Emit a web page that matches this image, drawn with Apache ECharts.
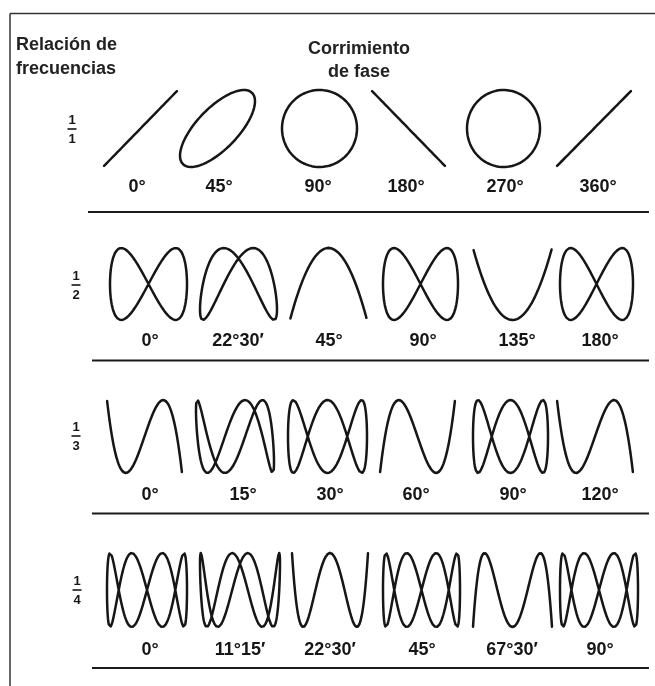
<!DOCTYPE html>
<html>
<head>
<meta charset="utf-8">
<script src="https://cdn.jsdelivr.net/npm/echarts@6/dist/echarts.min.js"></script>
<style>html,body{margin:0;padding:0;background:#fff;}#c{width:655px;height:686px;}</style>
</head>
<body>
<div id="c"></div>
<script>
// ---- data ----
const ratioTop = ['1', '1', '1', '1'];
const ratioBottom = ['1', '2', '3', '4'];
const freqMultiplier = [1, 2, 3, 4];
const phaseDeg = [
  [0, 45, 90, 180, 270, 360],
  [0, 22.5, 45, 90, 135, 180],
  [0, 15, 30, 60, 90, 120],
  [0, 11.25, 22.5, 45, 67.5, 90]
];
const phaseLabels = [
  ['0°', '45°', '90°', '180°', '270°', '360°'],
  ['0°', '22°30′', '45°', '90°', '135°', '180°'],
  ['0°', '15°', '30°', '60°', '90°', '120°'],
  ['0°', '11°15′', '22°30′', '45°', '67°30′', '90°']
];
const titleLeft = ['Relación de', 'frecuencias'];
const titleCenter = ['Corrimiento', 'de fase'];

// ---- layout ----
const rowTop = [90, 248, 400, 553];
const rowH = [77, 72, 73, 74];
const cellLeft = [
  [103, 180, 282, 371, 467, 556],
  [110, 200, 290, 383, 473, 560],
  [107, 196, 288, 380, 473, 557],
  [107, 200, 292, 383, 473, 560]
];
const cellW = [
  [75, 75, 75, 75, 73, 76],
  [77, 77, 77, 75, 79, 73],
  [75, 78, 79, 75, 75, 76],
  [80, 80, 76, 77, 79, 78]
];
const labelX = [
  [137, 219, 318, 406, 505, 598],
  [150, 238, 329, 423, 517, 600],
  [150, 243, 330, 416, 513, 600],
  [150, 240, 330, 422, 512, 600]
];
const labelY = [187.5, 341, 495, 650];
const sepY = [212, 360.5, 513.5, 668];
const sepX1 = [88, 92, 92, 92];
const fracX = [72, 76, 76, 77];
const fracY = [129, 285, 436, 590];

// Lissajous trace for given frequency multiplier and phase
function curve(n, deg) {
  const ph = deg * Math.PI / 180;
  const pts = [];
  const N = 720;
  for (let i = 0; i <= N; i++) {
    const s = 2 * Math.PI * i / N;
    pts.push([Math.sin(s), Math.sin(n * s + n * ph)]);
  }
  return pts;
}

const grids = [], xAxes = [], yAxes = [], series = [];
const graphics = [];
const ink = '#161616';
const fam = '"Liberation Sans", Arial, sans-serif';
let k = 0;
for (let r = 0; r < 4; r++) {
  for (let c = 0; c < 6; c++) {
    grids.push({ left: cellLeft[r][c], top: rowTop[r], width: cellW[r][c], height: rowH[r] });
    xAxes.push({ gridIndex: k, type: 'value', min: -1, max: 1, show: false });
    yAxes.push({ gridIndex: k, type: 'value', min: -1, max: 1, show: false });
    series.push({
      type: 'line', xAxisIndex: k, yAxisIndex: k, showSymbol: false, clip: false,
      silent: true, animation: false,
      lineStyle: { color: ink, width: 2.5, join: 'round', cap: 'round' },
      data: curve(freqMultiplier[r], phaseDeg[r][c])
    });
    graphics.push({
      type: 'text', x: labelX[r][c], y: labelY[r],
      style: { text: phaseLabels[r][c], fill: ink, font: 'bold 18px ' + fam, align: 'center', verticalAlign: 'middle' }
    });
    k++;
  }
  graphics.push({
    type: 'line', shape: { x1: sepX1[r], y1: sepY[r], x2: 649, y2: sepY[r] },
    style: { stroke: '#1a1a1a', lineWidth: 2 }
  });
  graphics.push({
    type: 'text', x: fracX[r], y: fracY[r] - 8.5,
    style: { text: ratioTop[r], fill: ink, font: 'bold 13px ' + fam, align: 'center', verticalAlign: 'middle' }
  });
  graphics.push({
    type: 'line', shape: { x1: fracX[r] - 4.5, y1: fracY[r], x2: fracX[r] + 4.5, y2: fracY[r] },
    style: { stroke: ink, lineWidth: 1.6 }
  });
  graphics.push({
    type: 'text', x: fracX[r], y: fracY[r] + 10.5,
    style: { text: ratioBottom[r], fill: ink, font: 'bold 13px ' + fam, align: 'center', verticalAlign: 'middle' }
  });
}
// frame
graphics.push({ type: 'line', shape: { x1: 10, y1: 13.5, x2: 655, y2: 13.5 }, style: { stroke: '#333', lineWidth: 1.5 } });
graphics.push({ type: 'line', shape: { x1: 10, y1: 13.5, x2: 10, y2: 686 }, style: { stroke: '#333', lineWidth: 1.5 } });
// headers
const hFont = 'bold 18px ' + fam;
graphics.push({ type: 'text', x: 16, y: 45.5, style: { text: titleLeft[0], fill: '#222', font: hFont, align: 'left', verticalAlign: 'middle' } });
graphics.push({ type: 'text', x: 16, y: 69, style: { text: titleLeft[1], fill: '#222', font: hFont, align: 'left', verticalAlign: 'middle' } });
graphics.push({ type: 'text', x: 359, y: 49.5, style: { text: titleCenter[0], fill: '#222', font: hFont, align: 'center', verticalAlign: 'middle' } });
graphics.push({ type: 'text', x: 359, y: 72, style: { text: titleCenter[1], fill: '#222', font: hFont, align: 'center', verticalAlign: 'middle' } });

const chart = echarts.init(document.getElementById('c'), null, { renderer: 'canvas' });
chart.setOption({
  animation: false,
  backgroundColor: '#fff',
  grid: grids,
  xAxis: xAxes,
  yAxis: yAxes,
  series: series,
  graphic: graphics
});
</script>
</body>
</html>
